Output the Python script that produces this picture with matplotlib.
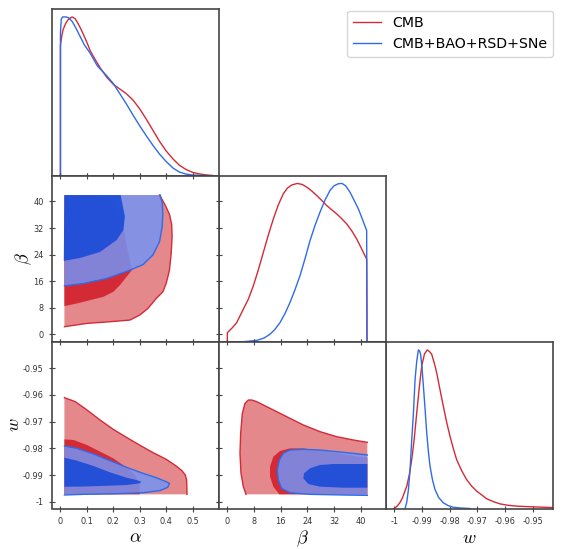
import numpy as np
import matplotlib
matplotlib.use('Agg')
from matplotlib import pyplot as plt
from matplotlib.lines import Line2D

plt.rcParams['font.family'] = ['DejaVu Sans']
plt.rcParams['mathtext.fontset'] = 'cm'
plt.rcParams['axes.unicode_minus'] = False

labels = ['CMB', 'CMB+BAO+RSD+SNe']

# ---- 1D marginals (normalised to peak) ----
alpha_red_x = [0.0, 0.0, 0.005, 0.01, 0.02, 0.03, 0.044, 0.055, 0.066, 0.077, 0.088, 0.1, 0.113,
               0.13, 0.15, 0.175, 0.2, 0.225, 0.25, 0.275, 0.3, 0.325, 0.35, 0.375, 0.4, 0.426,
               0.45, 0.475, 0.5, 0.525, 0.55, 0.576]
alpha_red_p = [0.0, 0.82, 0.88, 0.92, 0.96, 0.985, 1.0, 0.99, 0.96, 0.925, 0.885, 0.84, 0.785,
               0.735, 0.68, 0.62, 0.575, 0.545, 0.515, 0.475, 0.42, 0.355, 0.285, 0.215, 0.155,
               0.104, 0.065, 0.038, 0.02, 0.01, 0.004, 0.0]
alpha_blue_x = [0.0, 0.0, 0.003, 0.008, 0.02, 0.031, 0.045, 0.06, 0.075, 0.09, 0.113, 0.14, 0.175,
                0.2, 0.225, 0.25, 0.275, 0.3, 0.325, 0.35, 0.375, 0.4, 0.426, 0.45, 0.475, 0.5, 0.55]
alpha_blue_p = [0.0, 0.9, 0.985, 1.0, 1.0, 0.995, 0.97, 0.925, 0.875, 0.825, 0.77, 0.69, 0.629,
                0.58, 0.515, 0.45, 0.38, 0.313, 0.25, 0.19, 0.135, 0.088, 0.047, 0.022, 0.009,
                0.003, 0.0]

beta_red_x = [0, 0, 1.5, 2.8, 4.8, 6.3, 7.8, 9.3, 10.8, 12.3, 13.8, 15.3, 16.8, 18, 19.3, 21,
              22.5, 23.8, 25.3, 26.8, 28.3, 29.8, 31.3, 32.8, 34.3, 35.8, 37.3, 38.8, 40, 40.8,
              41.8, 41.9, 47.6]
beta_red_p = [0.0, 0.059, 0.09, 0.122, 0.207, 0.27, 0.354, 0.455, 0.565, 0.675, 0.776, 0.865,
              0.935, 0.97, 0.99, 1.0, 0.993, 0.977, 0.953, 0.924, 0.893, 0.861, 0.834, 0.808,
              0.778, 0.745, 0.702, 0.65, 0.6, 0.565, 0.523, 0.0, 0.0]
beta_blue_x = [0, 4.8, 8.8, 11, 12.8, 14.3, 15.8, 17.3, 18.8, 20.3, 21.8, 23.3, 24.8, 26.3, 27.8,
               29.3, 30.8, 32, 33.3, 34.4, 35.5, 36.8, 38, 39.3, 40.5, 41.8, 41.9, 47.6]
beta_blue_p = [0.0, 0.002, 0.01, 0.025, 0.049, 0.08, 0.122, 0.18, 0.249, 0.33, 0.418, 0.525,
               0.639, 0.735, 0.819, 0.895, 0.956, 0.985, 0.998, 1.0, 0.985, 0.945, 0.895, 0.84,
               0.775, 0.703, 0.0, 0.0]

w_red_x = [-1.0, -0.999, -0.998, -0.997, -0.9955, -0.9945, -0.9937, -0.9928, -0.9919, -0.991,
           -0.9901, -0.9891, -0.9881, -0.9873, -0.9865, -0.9856, -0.9847, -0.9835, -0.9823,
           -0.9811, -0.9799, -0.9787, -0.9775, -0.9757, -0.9739, -0.972, -0.9702, -0.968,
           -0.9666, -0.964, -0.9618, -0.9588, -0.9558, -0.951, -0.9461, -0.9427]
w_red_p = [0.0, 0.015, 0.036, 0.07, 0.141, 0.22, 0.309, 0.44, 0.604, 0.76, 0.899, 0.975, 1.0,
           0.99, 0.973, 0.92, 0.857, 0.75, 0.646, 0.545, 0.457, 0.38, 0.309, 0.24, 0.183, 0.14,
           0.109, 0.08, 0.061, 0.042, 0.029, 0.02, 0.015, 0.011, 0.008, 0.006]
w_blue_x = [-0.9961, -0.9955, -0.9949, -0.9943, -0.9937, -0.9931, -0.9925, -0.9919, -0.9913,
            -0.9909, -0.9905, -0.99, -0.9895, -0.9889, -0.9883, -0.9877, -0.9871, -0.9862,
            -0.9853, -0.984, -0.9823, -0.9805, -0.9787, -0.976, -0.9727]
w_blue_p = [0.0, 0.04, 0.12, 0.25, 0.436, 0.6, 0.815, 0.93, 1.0, 0.995, 0.973, 0.89, 0.773, 0.63,
            0.478, 0.36, 0.267, 0.18, 0.12, 0.07, 0.036, 0.018, 0.008, 0.003, 0.0]

# ---- 2D contour boundaries (68% / 95%) ----
ab_corner = (0.015, 41.9)
ab_red95 = ([0.015, 0.1, 0.1875, 0.2625, 0.3, 0.331, 0.3625, 0.3875, 0.4, 0.4125, 0.419, 0.4225,
             0.421, 0.413, 0.4, 0.3875, 0.375],
            [2.3, 3.3, 3.8, 4.3, 5.8, 7.8, 10.8, 12.8, 15.3, 19.3, 24.3, 29.3, 33, 36, 38.3, 40.2, 41.9])
ab_red68 = ([0.015, 0.0625, 0.1125, 0.1625, 0.2, 0.225, 0.25, 0.27, 0.262, 0.25, 0.24, 0.228,
             0.2, 0.157],
            [8.5, 9.3, 10.3, 11.3, 12.8, 14.8, 17.3, 19.3, 22.5, 27, 32, 36, 39.5, 41.9])
ab_blue95 = ([0.015, 0.0875, 0.175, 0.2625, 0.3125, 0.35, 0.375, 0.385, 0.3875, 0.385, 0.3775],
             [14.6, 15.3, 16.8, 19.3, 21.0, 23.9, 27.9, 32.4, 36.5, 39.5, 41.9])
ab_blue68 = ([0.0125, 0.075, 0.15, 0.213, 0.238, 0.244, 0.228],
             [22.1, 23.0, 24.8, 28.4, 31.4, 35.4, 41.9])

aw_corner = (0.015, -0.99725)
aw_red95 = ([0.015, 0.056, 0.1, 0.15, 0.2, 0.25, 0.3, 0.35, 0.4, 0.4375, 0.46, 0.4725, 0.4775, 0.479],
            [-0.961, -0.9625, -0.9656, -0.9694, -0.9729, -0.9759, -0.9788, -0.9816, -0.9841,
             -0.9866, -0.9884, -0.99, -0.9919, -0.99725])
aw_red68 = ([0.015, 0.05, 0.1, 0.15, 0.2, 0.231, 0.2625, 0.2875, 0.3, 0.3],
            [-0.97663, -0.97688, -0.97875, -0.98125, -0.98375, -0.98588, -0.98813, -0.99063,
             -0.99438, -0.99725])
aw_blue95 = ([0.015, 0.0625, 0.125, 0.1875, 0.25, 0.3125, 0.3625, 0.4, 0.4125, 0.406, 0.375,
              0.3125, 0.2125, 0.0875, 0.015],
             [-0.97912, -0.98, -0.98213, -0.98463, -0.98713, -0.98938, -0.991, -0.9925, -0.99313,
              -0.99463, -0.99588, -0.99663, -0.997, -0.99725, -0.9975])
aw_blue68 = ([0.015, 0.0625, 0.125, 0.1875, 0.25, 0.2875, 0.30625, 0.3, 0.25, 0.15, 0.0625, 0.015],
             [-0.9835, -0.98463, -0.98663, -0.989, -0.991, -0.99188, -0.9925, -0.99313, -0.99375,
              -0.99413, -0.99438, -0.99438])

bw_corner = (42.0, -0.99725)
bw_red95 = ([5.6, 4.8, 4.1, 3.8, 4.0, 4.5, 5.3, 6.3, 7.3, 8.8, 12.8, 17.8, 22.8, 27.8, 32.8, 37.8, 42.0],
            [-0.99725, -0.99438, -0.98938, -0.98188, -0.97438, -0.96688, -0.96313, -0.96188,
             -0.96188, -0.9625, -0.965, -0.96813, -0.97125, -0.97375, -0.97563, -0.97688, -0.97775])
bw_red68 = ([15.6, 13.8, 12.8, 12.8, 13.8, 15.8, 18.8, 22.8, 24.8, 30, 36, 42],
            [-0.99725, -0.99438, -0.99063, -0.98688, -0.98313, -0.981, -0.98, -0.98, -0.98038,
             -0.9812, -0.9825, -0.9835])
bw_blue95 = ([42.0, 37.8, 32.8, 27.8, 22.8, 18.8, 16.8, 15.6, 15.0, 15.3, 16.3, 18.8, 24.8, 34.8, 42.0],
             [-0.9825, -0.98188, -0.98125, -0.98063, -0.98038, -0.98063, -0.98188, -0.98438,
              -0.98813, -0.99188, -0.995, -0.99663, -0.99725, -0.9975, -0.99763])
bw_blue68 = ([42, 36.8, 31.8, 27.8, 24.8, 23.0, 22.8, 24.3, 27.8, 34.8, 42],
             [-0.98588, -0.98588, -0.98588, -0.98625, -0.9875, -0.98938, -0.99125, -0.99338,
              -0.99438, -0.99475, -0.99475])

alpha_ticks = [0, 0.1, 0.2, 0.3, 0.4, 0.5]
alpha_ticklabels = ['0', '0.1', '0.2', '0.3', '0.4', '0.5']
beta_ticks = [0, 8, 16, 24, 32, 40]
w_ticks = [-1, -0.99, -0.98, -0.97, -0.96, -0.95]
w_ticklabels = ['-1', '-0.99', '-0.98', '-0.97', '-0.96', '-0.95']

red_line = '#d42a38'
red_dark = '#d42a36'
red_light = '#e4888b'
blue_line = '#2f6be8'
blue_dark = '#1247d8'
blue_light = '#7494f5'
spine_col = '#454545'
text_col = '#333333'

alpha_lim = (-0.032, 0.6)
beta_xlim = (-2.5, 47.6)
beta_ylim = (-2.3, 47.8)
w_xlim = (-1.00301, -0.94265)
w_ylim = (-1.00256, -0.94013)

fig = plt.figure(figsize=(5.66, 5.49), dpi=100)

def add_panel(col, row):
    l = (52 + 167 * col) / 566
    b = 1 - (9 + 166.5 * (row + 1)) / 549
    ax = fig.add_axes([l, b, 167 / 566, 166.5 / 549])
    for s in ax.spines.values():
        s.set_color(spine_col)
        s.set_linewidth(1.2)
    ax.tick_params(colors=spine_col, labelcolor=text_col, labelsize=5.9,
                   direction='inout', length=4, width=0.8, pad=4)
    return ax

def fill_region(ax, curve, corner, color, alpha=1.0):
    xs = list(curve[0])
    ys = list(curve[1])
    if corner is not None:
        xs.append(corner[0])
        ys.append(corner[1])
    ax.fill(xs, ys, color=color, alpha=alpha, lw=0)

def one_d(ax, xr, pr, xb, pb, lim):
    ax.plot(xr, pr, color=red_line, lw=1.0)
    ax.plot(xb, pb, color=blue_line, lw=1.0)
    ax.set_xlim(lim)
    ax.set_ylim(0, 1.05)
    ax.set_yticks([])
    ax.tick_params(axis='x', top=False, labelbottom=False)

def two_d(ax, regions):
    r95, r68, b95, b68, c_red, c_blue = regions
    fill_region(ax, r95, c_red, red_light)
    fill_region(ax, r68, c_red, red_dark)
    ax.plot(r95[0], r95[1], color=red_line, lw=1.0)
    fill_region(ax, b95, c_blue, blue_light, alpha=0.85)
    fill_region(ax, b68, c_blue, blue_dark, alpha=0.85)
    ax.plot(b95[0], b95[1], color=blue_line, lw=1.0)
    ax.tick_params(top=True, right=True, labelbottom=False, labelleft=False)

# diagonal
ax_a = add_panel(0, 0)
one_d(ax_a, alpha_red_x, alpha_red_p, alpha_blue_x, alpha_blue_p, alpha_lim)
ax_a.set_xticks(alpha_ticks)

ax_b = add_panel(1, 1)
one_d(ax_b, beta_red_x, beta_red_p, beta_blue_x, beta_blue_p, beta_xlim)
ax_b.set_xticks(beta_ticks)

ax_w = add_panel(2, 2)
one_d(ax_w, w_red_x, w_red_p, w_blue_x, w_blue_p, w_xlim)
ax_w.set_xticks(w_ticks)
ax_w.set_xticklabels(w_ticklabels)
ax_w.tick_params(axis='x', labelbottom=True)
ax_w.set_xlabel(r'$w$', fontsize=13, labelpad=2)

# alpha-beta
ax_ab = add_panel(0, 1)
two_d(ax_ab, (ab_red95, ab_red68, ab_blue95, ab_blue68, ab_corner, ab_corner))
ax_ab.set_xlim(alpha_lim)
ax_ab.set_ylim(beta_ylim)
ax_ab.set_xticks(alpha_ticks)
ax_ab.set_yticks(beta_ticks)
ax_ab.tick_params(labelleft=True)
ax_ab.set_ylabel(r'$\beta$', fontsize=13)
ax_ab.yaxis.set_label_coords(-0.107, 0.5)

# alpha-w
ax_aw = add_panel(0, 2)
two_d(ax_aw, (aw_red95, aw_red68, aw_blue95, aw_blue68, aw_corner, None))
ax_aw.set_xlim(alpha_lim)
ax_aw.set_ylim(w_ylim)
ax_aw.set_xticks(alpha_ticks)
ax_aw.set_xticklabels(alpha_ticklabels)
ax_aw.set_yticks(w_ticks)
ax_aw.set_yticklabels(w_ticklabels)
ax_aw.tick_params(labelleft=True, labelbottom=True)
ax_aw.set_xlabel(r'$\alpha$', fontsize=13, labelpad=2)
ax_aw.set_ylabel(r'$w$', fontsize=13)
ax_aw.yaxis.set_label_coords(-0.175, 0.5)

# beta-w
ax_bw = add_panel(1, 2)
two_d(ax_bw, (bw_red95, bw_red68, bw_blue95, bw_blue68, bw_corner, None))
ax_bw.set_xlim(beta_xlim)
ax_bw.set_ylim(w_ylim)
ax_bw.set_xticks(beta_ticks)
ax_bw.set_yticks(w_ticks)
ax_bw.tick_params(labelbottom=True, right=False)
ax_bw.set_xlabel(r'$\beta$', fontsize=13, labelpad=2)

handles = [Line2D([], [], color=red_line, lw=1.0), Line2D([], [], color=blue_line, lw=1.0)]
fig.legend(handles, labels, loc='upper right', bbox_to_anchor=(553 / 566, 1 - 10.5 / 549),
           bbox_transform=fig.transFigure, fontsize=10.2, borderaxespad=0, labelspacing=0.5,
           edgecolor='#cccccc')

fig.savefig('out.png', dpi=100)
